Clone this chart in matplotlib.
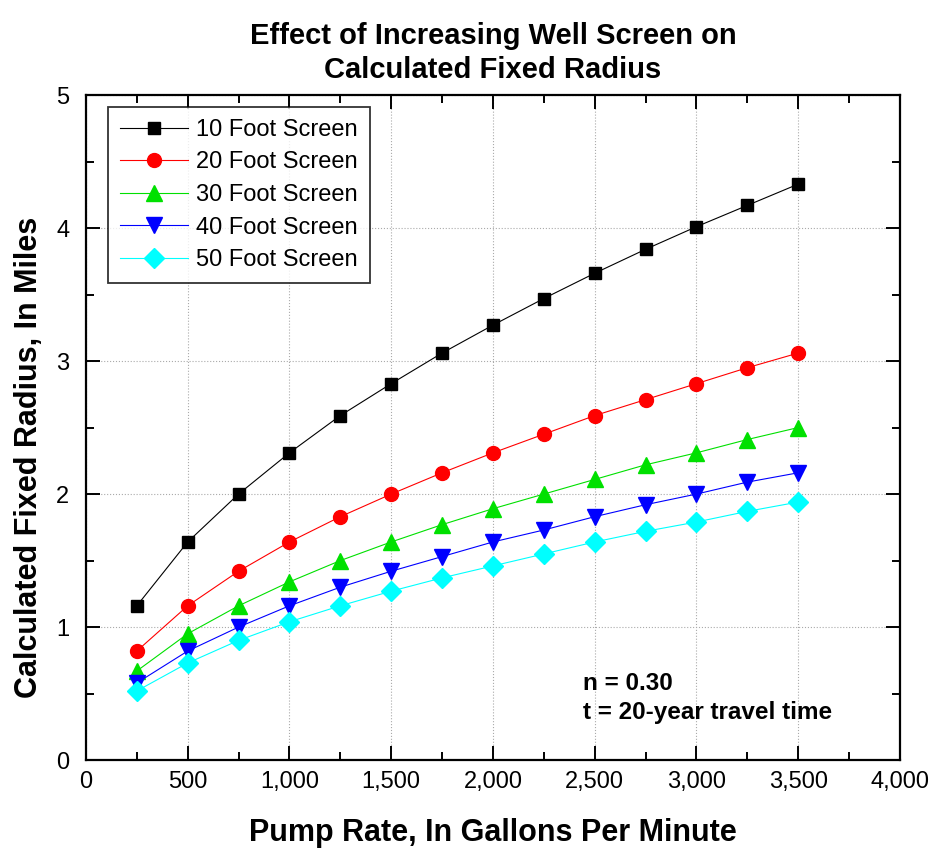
import matplotlib.pyplot as plt
from matplotlib.ticker import MultipleLocator, FuncFormatter

plt.rcParams['font.family'] = ['Liberation Sans', 'DejaVu Sans']

pump_rate = [250, 500, 750, 1000, 1250, 1500, 1750, 2000, 2250, 2500, 2750, 3000, 3250, 3500]
screen_10 = [1.16, 1.64, 2.00, 2.31, 2.59, 2.83, 3.06, 3.27, 3.47, 3.66, 3.84, 4.01, 4.17, 4.33]
screen_20 = [0.82, 1.16, 1.42, 1.64, 1.83, 2.00, 2.16, 2.31, 2.45, 2.59, 2.71, 2.83, 2.95, 3.06]
screen_30 = [0.67, 0.95, 1.16, 1.34, 1.50, 1.64, 1.77, 1.89, 2.00, 2.11, 2.22, 2.31, 2.41, 2.50]
screen_40 = [0.58, 0.82, 1.00, 1.16, 1.30, 1.42, 1.53, 1.64, 1.73, 1.83, 1.92, 2.00, 2.09, 2.16]
screen_50 = [0.52, 0.73, 0.90, 1.04, 1.16, 1.27, 1.37, 1.46, 1.55, 1.64, 1.72, 1.79, 1.87, 1.94]
labels = ['10 Foot Screen', '20 Foot Screen', '30 Foot Screen', '40 Foot Screen', '50 Foot Screen']

series = [screen_10, screen_20, screen_30, screen_40, screen_50]
colors = ['black', 'red', '#00e000', 'blue', 'cyan']
markers = ['s', 'o', '^', 'v', 'D']
sizes = [9, 10, 11, 11, 10]

fig = plt.figure(figsize=(9.34, 8.56), dpi=100)
ax = fig.add_axes([0.092, 0.112, 0.8715, 0.777])

for vals, lab, c, m, s in zip(series, labels, colors, markers, sizes):
    ax.plot(pump_rate, vals, color=c, lw=0.8, marker=m, markersize=s,
            markerfacecolor=c, markeredgecolor=c, label=lab)

ax.set_xlim(0, 4000)
ax.set_ylim(0, 5)
ax.xaxis.set_major_locator(MultipleLocator(500))
ax.xaxis.set_minor_locator(MultipleLocator(250))
ax.yaxis.set_major_locator(MultipleLocator(1))
ax.yaxis.set_minor_locator(MultipleLocator(0.5))
ax.xaxis.set_major_formatter(FuncFormatter(lambda v, p: f'{int(v):,}'))
ax.tick_params(which='both', direction='in', top=True, right=True, labelsize=17, width=1.4)
ax.tick_params(which='major', length=10)
ax.tick_params(which='minor', length=6)
ax.tick_params(axis='x', which='major', pad=8)
ax.tick_params(axis='y', which='major', pad=12)
ax.grid(True, which='major', color='#aaaaaa', linestyle=':', linewidth=0.8)
for sp in ax.spines.values():
    sp.set_linewidth(1.6)

ax.set_title('Effect of Increasing Well Screen on\nCalculated Fixed Radius',
             fontsize=21, fontweight='bold', pad=12, linespacing=1.3)
ax.set_xlabel('Pump Rate, In Gallons Per Minute', fontsize=22, fontweight='bold', labelpad=18)
ax.set_ylabel('Calculated Fixed Radius, In Miles', fontsize=22, fontweight='bold')
ax.yaxis.set_label_coords(-0.051, 0.455)

ax.text(0.611, 0.055, 'n = 0.30\nt = 20-year travel time', transform=ax.transAxes,
        fontsize=17.5, fontweight='bold', linespacing=1.3, va='bottom')

leg = ax.legend(loc='upper left', bbox_to_anchor=(0.027, 0.982), fontsize=17,
                frameon=True, fancybox=False, edgecolor='black', handlelength=2.9,
                handletextpad=0.35, borderpad=0.5, labelspacing=0.45,
                borderaxespad=0)
leg.get_frame().set_linewidth(1.3)

fig.savefig('out.png', dpi=100)
